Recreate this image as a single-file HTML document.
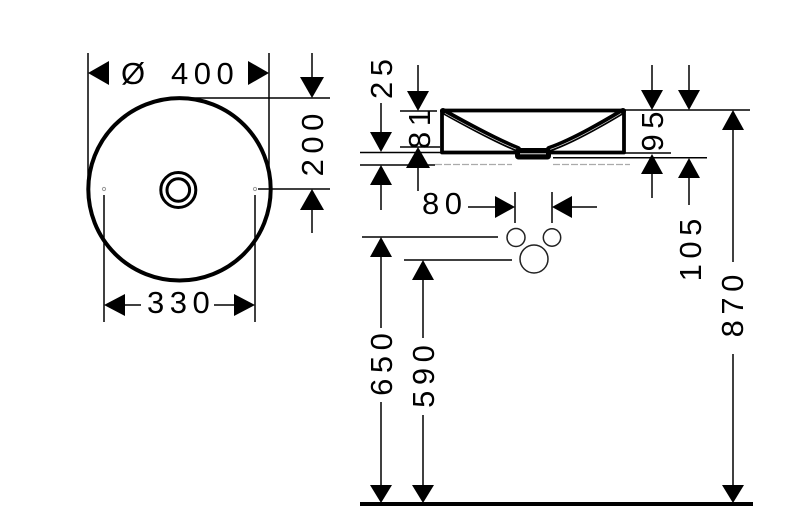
<!DOCTYPE html>
<html><head><meta charset="utf-8"><style>
html,body{margin:0;padding:0;background:#fff;}
svg{display:block;}
text{font-family:"Liberation Sans",sans-serif;font-size:31px;letter-spacing:5.5px;fill:#000;}
</style></head><body>
<svg width="790" height="525" viewBox="0 0 790 525" xmlns="http://www.w3.org/2000/svg">
<g stroke="#000" stroke-width="1.5" fill="none">
<line x1="88" y1="53" x2="88" y2="189"/>
<line x1="269" y1="53" x2="269" y2="170"/>
<line x1="180" y1="98" x2="330" y2="98"/>
<line x1="258" y1="189" x2="330" y2="189"/>
<line x1="312" y1="53" x2="312" y2="80"/>
<line x1="312" y1="207" x2="312" y2="233"/>
<line x1="104" y1="195" x2="104" y2="322"/>
<line x1="255" y1="195" x2="255" y2="322"/>
<line x1="124" y1="305" x2="141" y2="305"/>
<line x1="214" y1="305" x2="235" y2="305"/>
</g>
<circle cx="179.5" cy="189.3" r="91.2" fill="none" stroke="#000" stroke-width="4"/>
<circle cx="178.3" cy="190" r="17.5" fill="none" stroke="#000" stroke-width="3"/>
<circle cx="178.3" cy="190" r="11.3" fill="none" stroke="#000" stroke-width="3"/>
<circle cx="104" cy="189" r="1.6" fill="none" stroke="#999" stroke-width="1"/>
<circle cx="255" cy="189" r="1.6" fill="none" stroke="#999" stroke-width="1"/>
<g fill="#000">
<polygon points="88,73 109,61 109,85"/>
<polygon points="269,73 248,61 248,85"/>
<polygon points="312,98 300,77 324,77"/>
<polygon points="312,189 300,210 324,210"/>
<polygon points="104,305 125,294 125,316"/>
<polygon points="255,305 234,294 234,316"/>
</g>
<text x="121" y="84" style="letter-spacing:0">Ø</text>
<text x="171" y="84">400</text>
<text x="147" y="313">330</text>
<text transform="translate(323,145) rotate(-90)" text-anchor="middle" dx="2.75">200</text>

<g stroke="#000" stroke-width="1.5" fill="none">
<line x1="360" y1="152.5" x2="442" y2="152.5"/>
<line x1="360" y1="165" x2="435" y2="165"/>
<line x1="400" y1="111" x2="437" y2="111"/>
<line x1="400" y1="147" x2="440" y2="147"/>
<line x1="624" y1="110" x2="750" y2="110"/>
<line x1="624" y1="153" x2="671" y2="153"/>
<line x1="553" y1="157.7" x2="707" y2="157.7"/>
<line x1="381" y1="103" x2="381" y2="134"/>
<line x1="381" y1="183" x2="381" y2="210"/>
<line x1="418" y1="65" x2="418" y2="93"/>
<line x1="418" y1="165" x2="418" y2="191"/>
<line x1="652" y1="65" x2="652" y2="92"/>
<line x1="652" y1="172" x2="652" y2="198"/>
<line x1="689" y1="65" x2="689" y2="92"/>
<line x1="689" y1="176" x2="689" y2="205"/>
<line x1="733" y1="128" x2="733" y2="262"/>
<line x1="733" y1="354" x2="733" y2="487"/>
<line x1="468" y1="207" x2="497" y2="207"/>
<line x1="515" y1="192" x2="515" y2="223"/>
<line x1="552" y1="192" x2="552" y2="223"/>
<line x1="570" y1="207" x2="597" y2="207"/>
<line x1="362" y1="237" x2="498" y2="237"/>
<line x1="404" y1="260" x2="512" y2="260"/>
<line x1="381" y1="255" x2="381" y2="328"/>
<line x1="381" y1="402" x2="381" y2="487"/>
<line x1="423" y1="278" x2="423" y2="338"/>
<line x1="423" y1="415" x2="423" y2="487"/>
</g>
<g stroke="#aaa" stroke-width="1.2" stroke-dasharray="7,2" fill="none">
<line x1="435" y1="164.5" x2="512" y2="164.5"/>
<line x1="553" y1="164.5" x2="630" y2="164.5"/>
</g>
<g fill="none" stroke-linecap="round">
<path d="M443,111 Q495,140 518,149" stroke="#000" stroke-width="6"/>
<path d="M549,149 Q575,140 623,111" stroke="#000" stroke-width="6"/>
<path d="M445,113.5 Q495,141 517,149.5" stroke="#ddd" stroke-width="0.7"/>
<path d="M550,149.5 Q575,141 621,113.5" stroke="#ddd" stroke-width="0.7"/>
</g>
<g stroke="#000" stroke-width="3.8" fill="none" stroke-linejoin="round" stroke-linecap="round">
<path d="M516,152.5 L442,152.5 L442,110.5 L624,110.5 L624,152.5 L550,152.5"/>
</g>
<rect x="516" y="149" width="34" height="9.5" rx="2.5" fill="#000" stroke="#000" stroke-width="2"/>
<line x1="520" y1="153.8" x2="546" y2="153.8" stroke="#fff" stroke-width="0.8"/>
<g fill="none" stroke="#222" stroke-width="1.5">
<circle cx="516" cy="237.5" r="9"/>
<circle cx="552" cy="237.5" r="8.7"/>
<circle cx="534" cy="259" r="14"/>
</g>
<line x1="360" y1="504" x2="753" y2="504" stroke="#000" stroke-width="4"/>
<g fill="#000">
<polygon points="381,152 370,132 392,132"/>
<polygon points="381,165 370,185 392,185"/>
<polygon points="418,111 407,91 429,91"/>
<polygon points="418,147 406,168 430,168"/>
<polygon points="652,110 641,90 663,90"/>
<polygon points="652,154 641,174 663,174"/>
<polygon points="689,110 678,90 700,90"/>
<polygon points="689,158 678,178 700,178"/>
<polygon points="733,110 722,130 744,130"/>
<polygon points="733,503 722,485 744,485"/>
<polygon points="515,207 495,196 495,218"/>
<polygon points="552,207 572,196 572,218"/>
<polygon points="381,237 370,257 392,257"/>
<polygon points="423,260 412,280 434,280"/>
<polygon points="381,503 370,485 392,485"/>
<polygon points="423,503 412,485 434,485"/>
</g>
<text x="422" y="214">80</text>
<text transform="translate(392,79) rotate(-90)" text-anchor="middle" dx="2.75">25</text>
<text transform="translate(430,129) rotate(-90)" text-anchor="middle" dx="2.75">81</text>
<text transform="translate(663,131.5) rotate(-90)" text-anchor="middle" dx="2.75">95</text>
<text transform="translate(701,250) rotate(-90)" text-anchor="middle" dx="2.75">105</text>
<text transform="translate(743,306) rotate(-90)" text-anchor="middle" dx="2.75">870</text>
<text transform="translate(392,364.5) rotate(-90)" text-anchor="middle" dx="2.75">650</text>
<text transform="translate(434,376.5) rotate(-90)" text-anchor="middle" dx="2.75">590</text>
</svg>
</body></html>
